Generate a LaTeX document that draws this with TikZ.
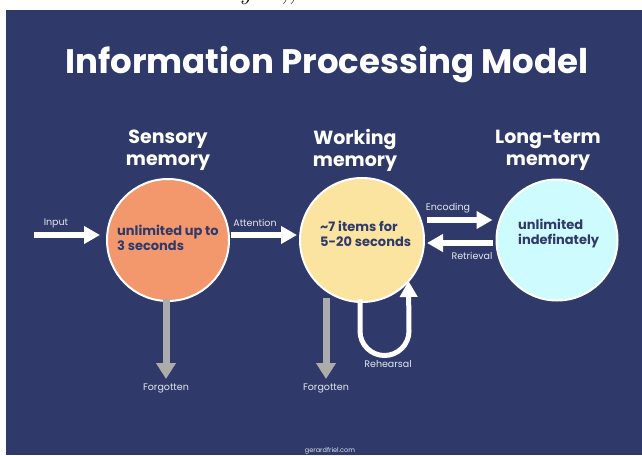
\documentclass[tikz,border=0pt]{standalone}
\usepackage{fontspec}
\setmainfont{Poppins}
\newfontfamily\serifit{Latin Modern Roman}
\usetikzlibrary{arrows.meta}
\definecolor{navy}{RGB}{47,58,106}
\definecolor{sensfill}{RGB}{243,152,108}
\definecolor{workfill}{RGB}{250,228,160}
\definecolor{ltmfill}{RGB}{206,251,254}
\definecolor{forgot}{RGB}{172,172,172}
\definecolor{lbltext}{RGB}{228,230,238}
\tikzset{
  memcircle/.style={circle, draw=white, line width=2pt, minimum size=122pt, inner sep=0pt, outer sep=0pt},
  memtext/.style={text=navy, font=\fontsize{13}{15}\selectfont\bfseries, align=left, anchor=west, inner sep=0pt},
  heading/.style={text=white, font=\fontsize{19}{22}\selectfont\bfseries, align=center, inner sep=0pt},
  lbl/.style={text=lbltext, font=\fontsize{9.5}{11}\selectfont, inner sep=0pt},
  whitearrow/.style={draw=white, line width=6pt, -{Triangle[width=17pt,length=16pt]}},
  grayarrow/.style={draw=forgot, line width=7pt, -{Triangle[width=19pt,length=16pt]}},
}
\begin{document}
\begin{tikzpicture}[x=1pt,y=-1pt]
\useasboundingbox (0,0) rectangle (642,455);
\fill[white] (0,0) rectangle (642,455);
\fill[navy] (6,10) rectangle (642,455);

% cut-off line of text above the panel
\begin{scope}
  \clip (0,0) rectangle (642,9.5);
  \node[anchor=base, inner sep=0pt, font=\fontsize{26}{26}\selectfont\serifit\itshape] (cuttext) at (268,-1) {y\hspace{30pt},,};
\end{scope}

% title
\node[text=white, font=\fontsize{34}{36}\selectfont\bfseries, inner sep=0pt] (title) at (327,65) {Information Processing Model};

% headings
\node[heading] (hsens) at (168,150) {Sensory\\memory};
\node[heading] (hwork) at (355,150) {Working\\memory};
\node[heading] (hltm) at (548,150) {Long-term\\memory};

% memory stores
\node[memcircle, fill=sensfill] (sens) at (168,240) {};
\node[memcircle, fill=workfill, minimum size=124pt] (work) at (362,240) {};
\node[memcircle, fill=ltmfill, minimum size=121pt] (ltm) at (557,240) {};

\node[memtext] (senstext) at (117,238) {unlimited up to\\3 seconds};
\node[memtext] (worktext) at (320,234) {\textasciitilde7 items for\\5-20 seconds};
\node[memtext] (ltmtext) at (518,234) {unlimited\\indefinately};

% flows between stores
\coordinate (instart) at (34,235);
\draw[whitearrow] (instart) -- ([shift={(-7,-5)}]sens.west);
\node[lbl] (linput) at (56,223) {Input};

\draw[whitearrow] ([shift={(2,-5)}]sens.east) -- ([shift={(-3,-5)}]work.west);
\node[lbl] (lattn) at (255,223) {Attention};

\draw[whitearrow] ([shift={(3,-20)}]work.east) -- ([shift={(-4,-20)}]ltm.west);
\node[lbl] (lenc) at (448,208) {Encoding};

\draw[whitearrow] ([shift={(-4,3)}]ltm.west) -- ([shift={(3,3)}]work.east);
\node[lbl] (lret) at (472,256) {Retrieval};

% forgetting
\coordinate (fsens) at (166,379);
\draw[grayarrow] ([shift={(-2,-2)}]sens.south) -- (fsens);
\node[lbl] (lfsens) at (166,388) {Forgotten};

\coordinate (fwork) at (326,379);
\draw[grayarrow] ([shift={(-36,-4)}]work.south) -- (fwork);
\node[lbl] (lfwork) at (326,388) {Forgotten};

% rehearsal loop
\draw[draw=white, line width=5pt, -{Triangle[width=17pt,length=16pt]}]
  ([shift={(-2,-3)}]work.south) -- ++(0,32) arc[start angle=180, end angle=0, radius=24.5] -- (408.5,281);
\node[lbl] (lreh) at (388,364) {Rehearsal};

% footer
\node[lbl, font=\fontsize{6.5}{7}\selectfont] (footer) at (330,451) {gerardfriel.com};
\end{tikzpicture}
\end{document}
